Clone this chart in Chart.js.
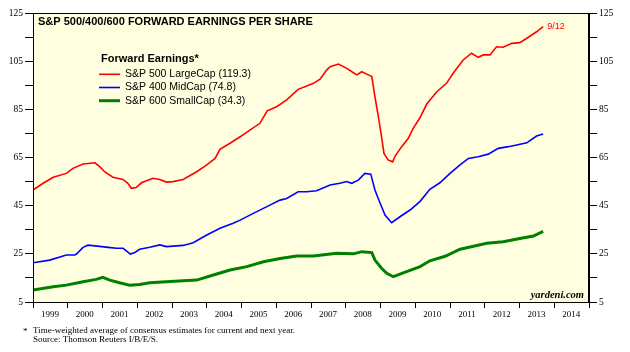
<!DOCTYPE html>
<html>
<head>
<meta charset="utf-8">
<script src="https://cdn.jsdelivr.net/npm/chart.js@4.4.0/dist/chart.umd.min.js"></script>
<style>
  body { margin: 0; background: #fff; }
  #grafico { display: block; }
</style>
</head>
<body>
<canvas id="grafico" width="630" height="352"></canvas>
<script>
const yearTicks = [1999, 2000, 2001, 2002, 2003, 2004, 2005, 2006, 2007, 2008, 2009, 2010, 2011, 2012, 2013, 2014, 2015];
const valueTicks = [5, 15, 25, 35, 45, 55, 65, 75, 85, 95, 105, 115, 125];
const valueLabels = [5, 25, 45, 65, 85, 105, 125];

const seriesNames = ['S&P 500 LargeCap (119.3)', 'S&P 400 MidCap (74.8)', 'S&P 600 SmallCap (34.3)'];

const largeCapDates = [1999.00, 1999.29, 1999.58, 1999.96, 2000.15, 2000.44, 2000.78, 2000.92, 2001.06, 2001.30,
  2001.59, 2001.73, 2001.83, 2001.97, 2002.12, 2002.45, 2002.65, 2002.84, 2003.03, 2003.32,
  2003.71, 2004.00, 2004.24, 2004.38, 2004.67, 2004.96, 2005.24, 2005.53, 2005.74, 2006.01,
  2006.30, 2006.63, 2006.88, 2007.07, 2007.26, 2007.45, 2007.55, 2007.79, 2008.03, 2008.22,
  2008.32, 2008.46, 2008.65, 2008.75, 2008.84, 2008.94, 2009.03, 2009.10, 2009.22, 2009.35,
  2009.42, 2009.61, 2009.80, 2009.94, 2010.14, 2010.33, 2010.62, 2010.90, 2011.09, 2011.38,
  2011.62, 2011.81, 2011.96, 2012.15, 2012.34, 2012.53, 2012.78, 2013.01, 2013.21, 2013.49, 2013.68];
const largeCapValues = [51.5, 54.3, 56.8, 58.4, 60.5, 62.3, 62.8, 61.2, 59.1, 56.8,
  55.9, 54.3, 52.2, 52.5, 54.5, 56.4, 55.9, 54.8, 55.0, 55.9,
  59.1, 61.9, 64.6, 68.4, 70.9, 73.6, 76.4, 79.2, 84.4, 86.1,
  88.9, 93.3, 94.7, 95.8, 97.5, 101.3, 102.7, 103.8, 102.0, 100.2,
  99.3, 100.6, 99.3, 98.6, 90.2, 81.9, 73.6, 66.7, 64.0, 63.2,
  65.6, 69.5, 73.0, 77.1, 81.6, 87.2, 92.3, 95.8, 100.0, 105.5,
  108.3, 106.6, 107.6, 107.6, 111.0, 110.8, 112.4, 112.7, 114.5, 117.2, 119.3];

const midCapDates = [1999.00, 1999.48, 1999.96, 2000.20, 2000.25, 2000.44, 2000.58, 2000.92, 2001.16, 2001.40,
  2001.59, 2001.68, 2001.80, 2001.93, 2002.07, 2002.36, 2002.65, 2002.84, 2003.32, 2003.61,
  2004.00, 2004.38, 2004.76, 2004.96, 2005.34, 2005.73, 2006.11, 2006.30, 2006.63, 2006.88,
  2007.16, 2007.55, 2007.83, 2008.03, 2008.17, 2008.36, 2008.55, 2008.72, 2008.84, 2008.99,
  2009.13, 2009.32, 2009.56, 2009.85, 2010.14, 2010.42, 2010.71, 2011.00, 2011.29, 2011.53,
  2011.81, 2012.10, 2012.39, 2012.68, 2012.92, 2013.21, 2013.49, 2013.68];
const midCapValues = [21.3, 22.4, 24.5, 24.5, 24.9, 27.7, 28.6, 28.1, 27.7, 27.3,
  27.3, 26.3, 24.9, 25.5, 26.9, 27.7, 28.7, 28.0, 28.5, 29.6,
  32.8, 35.6, 37.7, 39.0, 41.8, 44.6, 47.3, 48.0, 50.8, 50.8,
  51.2, 53.6, 54.3, 55.0, 54.3, 55.6, 58.4, 58.1, 51.5, 46.0,
  41.1, 37.9, 40.4, 43.2, 46.8, 51.8, 54.5, 58.4, 61.9, 64.6,
  65.3, 66.4, 68.8, 69.5, 70.2, 71.1, 73.9, 74.8];

const smallCapDates = [1999.00, 1999.58, 1999.96, 2000.44, 2000.82, 2001.01, 2001.21, 2001.49, 2001.78, 2002.07,
  2002.36, 2002.84, 2003.32, 2003.71, 2004.19, 2004.67, 2005.15, 2005.63, 2006.11, 2006.59,
  2007.07, 2007.74, 2008.22, 2008.46, 2008.75, 2008.84, 2009.03, 2009.18, 2009.37, 2009.75,
  2010.14, 2010.42, 2010.86, 2011.29, 2012.06, 2012.53, 2013.01, 2013.40, 2013.68];
const smallCapValues = [10.0, 11.3, 12.0, 13.4, 14.4, 15.2, 14.1, 13.0, 12.0, 12.3,
  13.0, 13.4, 13.8, 14.1, 16.2, 18.3, 19.7, 21.7, 23.1, 24.1,
  24.1, 25.2, 25.0, 25.9, 25.5, 22.4, 19.0, 16.9, 15.5, 17.6,
  19.7, 22.1, 24.0, 26.9, 29.4, 30.0, 31.4, 32.4, 34.3];

const sans = '"Liberation Sans", Arial, sans-serif';
const serif = '"Liberation Serif", "Times New Roman", serif';

function pares(datas, valores) {
  return datas.map((d, i) => ({ x: d, y: valores[i] }));
}

// background, frame and the texts drawn inside the plot
const decoracao = {
  id: 'decoracao',
  beforeDraw(chart) {
    const { ctx, chartArea: a } = chart;
    ctx.save();
    ctx.fillStyle = '#FFFFDF';
    ctx.fillRect(a.left, a.top, a.right - a.left, a.bottom - a.top);
    ctx.restore();
  },
  afterDraw(chart) {
    const { ctx, chartArea: a, scales } = chart;
    ctx.save();
    ctx.strokeStyle = '#000';
    ctx.lineWidth = 1;
    ctx.strokeRect(a.left + 0.5, a.top + 0.5, a.right - a.left - 1, a.bottom - a.top);

    ctx.fillStyle = '#000';
    ctx.textBaseline = 'middle';
    ctx.font = 'bold 11px ' + sans;
    ctx.fillText('S&P 500/400/600 FORWARD EARNINGS PER SHARE', 38, 22);

    ctx.font = 'bold 11px ' + sans;
    ctx.fillText('Forward Earnings*', 101, 59);
    chart.data.datasets.forEach((ds, i) => {
      const y = 74.3 + i * 13.2;
      ctx.strokeStyle = ds.borderColor;
      ctx.lineWidth = ds.borderWidth;
      ctx.beginPath();
      ctx.moveTo(99, y);
      ctx.lineTo(120, y);
      ctx.stroke();
      ctx.fillStyle = '#000';
      ctx.font = '10.5px ' + sans;
      ctx.fillText(ds.label, 125, y);
    });

    // date label at the end of the red line
    const n = largeCapDates.length - 1;
    const px = scales.x.getPixelForValue(largeCapDates[n]);
    const py = scales.y.getPixelForValue(largeCapValues[n]);
    ctx.fillStyle = '#FF0000';
    ctx.font = '9px ' + sans;
    ctx.fillText('9/12', px + 4, py);

    ctx.fillStyle = '#000';
    ctx.textAlign = 'right';
    ctx.font = 'italic bold 10.5px ' + serif;
    ctx.fillText('yardeni.com', a.right - 5, a.bottom - 7);

    ctx.textAlign = 'left';
    ctx.font = '9px ' + serif;
    ctx.fillText('*', 23, 332);
    ctx.fillText('Time-weighted average of consensus estimates for current and next year.', 33, 331);
    ctx.fillText('Source: Thomson Reuters I/B/E/S.', 33, 340);
    ctx.restore();
  }
};

const eixoY = (posicao, largura) => ({
  position: posicao,
  min: 5,
  max: 125,
  afterBuildTicks: s => { s.ticks = valueTicks.map(v => ({ value: v })); },
  afterFit: s => { s.width = largura; },
  ticks: {
    padding: 2,
    color: '#000',
    font: { family: serif, size: 9.5 },
    callback: v => valueLabels.includes(v) ? String(v) : ''
  },
  grid: { drawOnChartArea: false, tickLength: 8, color: '#000' },
  border: { color: '#000' }
});

new Chart(document.getElementById('grafico').getContext('2d'), {
  type: 'line',
  data: {
    datasets: [
      { label: seriesNames[0], data: pares(largeCapDates, largeCapValues), borderColor: '#FF0000', borderWidth: 1.6 },
      { label: seriesNames[1], data: pares(midCapDates, midCapValues), borderColor: '#0000FF', borderWidth: 1.6 },
      { label: seriesNames[2], data: pares(smallCapDates, smallCapValues), borderColor: '#008000', borderWidth: 3 }
    ]
  },
  options: {
    responsive: false,
    animation: false,
    layout: { padding: { top: 13, left: 0, right: 0, bottom: 0 } },
    elements: { point: { radius: 0 }, line: { tension: 0 } },
    plugins: { legend: { display: false }, tooltip: { enabled: false } },
    scales: {
      x: {
        type: 'linear',
        min: 1999,
        max: 2015,
        afterBuildTicks: s => { s.ticks = yearTicks.map(v => ({ value: v })); },
        afterFit: s => { s.height = 50; },
        ticks: {
          padding: 1,
          labelOffset: 17,
          maxRotation: 0,
          autoSkip: false,
          color: '#000',
          font: { family: serif, size: 9 },
          callback: v => v < 2015 ? String(v) : ''
        },
        grid: { drawOnChartArea: false, tickLength: 6, color: '#000' },
        border: { color: '#000' }
      },
      y: eixoY('left', 33),
      y2: eixoY('right', 41)
    }
  },
  plugins: [decoracao]
});
</script>
</body>
</html>
